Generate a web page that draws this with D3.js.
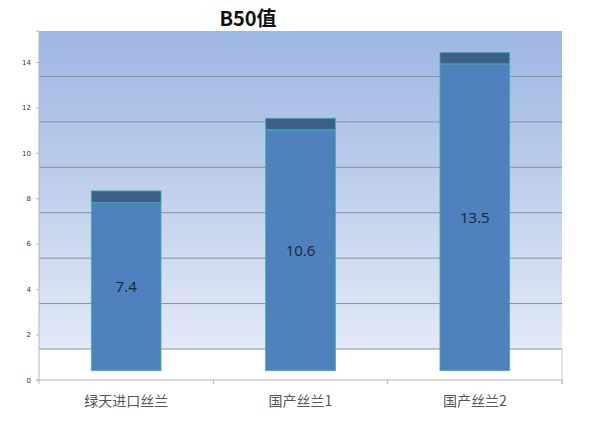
<!DOCTYPE html>
<html>
<head>
<meta charset="utf-8">
<script src="https://cdn.jsdelivr.net/npm/d3@7"></script>
<style>
  body { margin: 0; background: #fff; }
  svg { display: block; }
</style>
</head>
<body>
<script>
// B50 values per variety
var categories = ["绿天进口丝兰", "国产丝兰1", "国产丝兰2"];
var values = [7.4, 10.6, 13.5];
var yTicks = [0, 2, 4, 6, 8, 10, 12, 14];

var width = 607, height = 424;
var margin = {top: 31, left: 39, right: 45, bottom: 44};

// fake 3D depth offsets (px, upward)
var wallDepth = 31, barFront = 9.3, capH = 11.7;

const svg = d3.select("body").append("svg")
    .attr("width", width)
    .attr("height", height);

var x = d3.scaleBand()
    .domain(categories)
    .range([margin.left, width - margin.right])
    .paddingInner(0.6).paddingOuter(0.3);

var y = d3.scaleLinear()
    .domain([0, 14])
    .range([380, 62]);

var defs = svg.append("defs");
var grad = defs.append("linearGradient")
    .attr("id", "wall").attr("x1", 0).attr("y1", 0).attr("x2", 0).attr("y2", 1);
grad.append("stop").attr("offset", "0%").attr("stop-color", "#9db6e2");
grad.append("stop").attr("offset", "100%").attr("stop-color", "#e3eaf7");

var x0 = margin.left, x1 = width - margin.right;

// back wall
svg.append("rect")
    .attr("x", x0).attr("y", y(14) - wallDepth)
    .attr("width", x1 - x0).attr("height", y(0) - wallDepth - (y(14) - wallDepth))
    .attr("fill", "url(#wall)");

// wall gridlines
svg.selectAll(".grid")
    .data(yTicks.slice(0, -1))
    .enter().append("line")
    .attr("class", "grid")
    .attr("x1", x0).attr("x2", x1)
    .attr("y1", d => y(d) - wallDepth).attr("y2", d => y(d) - wallDepth)
    .attr("stroke", "#8a8f98").attr("stroke-width", 1);

// floor right edge
svg.append("line")
    .attr("x1", x1).attr("x2", x1)
    .attr("y1", y(0) - wallDepth).attr("y2", y(0) + 4)
    .attr("stroke", "#c8c8c8");

// bars: front face + dark top cap
var bars = svg.selectAll(".bar")
    .data(values)
    .enter().append("g").attr("class", "bar");

bars.append("rect")
    .attr("x", (d, i) => x(categories[i]))
    .attr("width", x.bandwidth())
    .attr("y", d => y(d) - barFront - capH)
    .attr("height", capH)
    .attr("fill", "#3d5f8c")
    .attr("stroke", "#3fb4a4").attr("stroke-width", 0.8);

bars.append("rect")
    .attr("x", (d, i) => x(categories[i]))
    .attr("width", x.bandwidth())
    .attr("y", d => y(d) - barFront)
    .attr("height", d => y(0) - y(d))
    .attr("fill", "#4f81bd")
    .attr("stroke", "#3fb4a4").attr("stroke-width", 0.8);

bars.append("text")
    .attr("x", (d, i) => x(categories[i]) + x.bandwidth() / 2)
    .attr("y", d => (y(d) + y(0)) / 2 - barFront)
    .attr("dy", "0.35em")
    .attr("text-anchor", "middle")
    .style("font-family", "'Open Sans', 'Noto Sans', sans-serif")
    .style("font-size", "15px")
    .style("fill", "#1b2635")
    .text(d => d);

// y axis
var yAxis = svg.append("g")
    .attr("transform", `translate(${x0},0)`)
    .call(d3.axisLeft(y).tickValues(yTicks).tickSize(3).tickPadding(5));
yAxis.select(".domain").attr("stroke", "#b5b5b5").attr("d", `M-3,${y(14) - wallDepth}H0V${y(0)}H-3`);
yAxis.selectAll(".tick line").attr("stroke", "#b5b5b5");
yAxis.selectAll("text")
    .style("font-family", "'DejaVu Sans', sans-serif")
    .style("font-size", "7px")
    .style("fill", "#333");

// x axis
var xAxis = svg.append("g")
    .attr("transform", `translate(0,${y(0)})`);
xAxis.append("line")
    .attr("x1", x0).attr("x2", x1)
    .attr("stroke", "#b5b5b5");
var step = (x1 - x0) / categories.length;
xAxis.selectAll(".xt")
    .data(d3.range(categories.length + 1))
    .enter().append("line")
    .attr("x1", d => x0 + d * step).attr("x2", d => x0 + d * step)
    .attr("y1", 0).attr("y2", 4)
    .attr("stroke", "#b5b5b5");
xAxis.selectAll(".xl")
    .data(categories)
    .enter().append("text")
    .attr("x", d => x(d) + x.bandwidth() / 2)
    .attr("y", 26)
    .attr("text-anchor", "middle")
    .style("font-family", "'Noto Sans CJK SC', sans-serif")
    .style("font-size", "14px")
    .style("fill", "#555")
    .text(d => d);

// title
svg.append("text")
    .attr("x", 248).attr("y", 26)
    .attr("text-anchor", "middle")
    .style("font-family", "'Noto Sans CJK SC', 'Open Sans', sans-serif")
    .style("font-weight", "bold")
    .style("font-size", "20px")
    .style("fill", "#111")
    .text("B50值");
</script>
</body>
</html>
